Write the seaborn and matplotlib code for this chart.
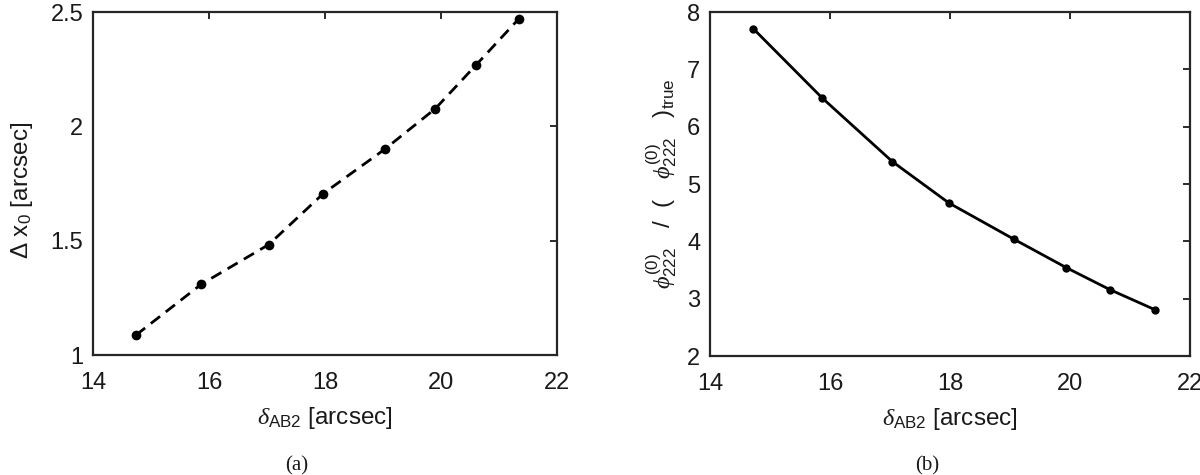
import matplotlib
matplotlib.use("Agg")
import matplotlib.pyplot as plt
import seaborn as sns
import pandas as pd

# data
delta_ab2_a = [14.74, 15.87, 17.03, 17.97, 19.03, 19.90, 20.61, 21.34]
delta_x0 = [1.087, 1.31, 1.483, 1.706, 1.90, 2.077, 2.27, 2.47]
delta_ab2_b = [14.72, 15.87, 17.04, 17.98, 19.06, 19.94, 20.66, 21.41]
phi_ratio = [7.71, 6.50, 5.39, 4.67, 4.04, 3.54, 3.16, 2.81]

x_ticks = [14, 16, 18, 20, 22]
ya_ticks = [1, 1.5, 2, 2.5]
ya_ticklabels = ["1", "1.5", "2", "2.5"]
yb_ticks = [2, 3, 4, 5, 6, 7, 8]

sns.set_style("white")
plt.rcParams['font.family'] = ['Liberation Sans', 'DejaVu Sans']
plt.rcParams['mathtext.fontset'] = 'custom'
plt.rcParams['mathtext.rm'] = 'Liberation Sans'
plt.rcParams['mathtext.sf'] = 'Liberation Sans'
plt.rcParams['mathtext.it'] = 'Liberation Serif:italic'
plt.rcParams['mathtext.bf'] = 'Liberation Sans:bold'
plt.rcParams['font.size'] = 17

TXT = "#1a1a1a"
fig = plt.figure(figsize=(12, 4.75), dpi=100)
ax1 = fig.add_axes([0.0775, 0.2526, 0.3867, 0.7221])
ax2 = fig.add_axes([0.5917, 0.2505, 0.4, 0.7242])

df_a = pd.DataFrame({"x": delta_ab2_a, "y": delta_x0})
df_b = pd.DataFrame({"x": delta_ab2_b, "y": phi_ratio})

sns.lineplot(data=df_a, x="x", y="y", ax=ax1, color="black", linestyle=(0, (4.2, 2.6)),
             linewidth=2.0, marker="o", markersize=7, markeredgewidth=0)
sns.lineplot(data=df_b, x="x", y="y", ax=ax2, color="black", linestyle="-",
             linewidth=2.0, marker="o", markersize=6, markeredgewidth=0)

for ax in (ax1, ax2):
    ax.set_xlim(14, 22)
    ax.set_xticks(x_ticks)
    ax.tick_params(direction="in", top=True, right=True, length=5, width=1.3,
                   labelsize=17, colors=TXT)
    ax.tick_params(axis="x", pad=12)
    ax.tick_params(axis="y", pad=7)
    for s in ax.spines.values():
        s.set_linewidth(1.6)
        s.set_color("#262626")
    ax.set_xlabel(r"$\delta_{\mathrm{AB2}}$ [arcsec]", fontsize=17.5, color=TXT)
    ax.xaxis.set_label_coords(0.5, -0.145)

ax1.set_ylim(1, 2.5)
ax1.set_yticks(ya_ticks)
ax1.set_yticklabels(ya_ticklabels)
ax1.set_ylabel(r"Δ x$_{\mathrm{0}}$ [arcsec]", fontsize=17.5, color=TXT)
ax1.yaxis.set_label_coords(-0.125, 0.48)

ax2.set_ylim(2, 8)
ax2.set_yticks(yb_ticks)
ax2.set_ylabel(r"$\phi^{\mathrm{(0)}}_{\mathrm{222}}$   /  (   $\phi^{\mathrm{(0)}}_{\mathrm{222}}$   )$_{\mathrm{true}}$",
               fontsize=17.5, color=TXT)
ax2.yaxis.set_label_coords(-0.065, 0.5)

fig.text(0.2475, 0.02, "(a)", family="Liberation Serif", fontsize=15, ha="center", va="center", color=TXT)
fig.text(0.7725, 0.02, "(b)", family="Liberation Serif", fontsize=15, ha="center", va="center", color=TXT)

fig.savefig("out.png", dpi=100, facecolor="white")
